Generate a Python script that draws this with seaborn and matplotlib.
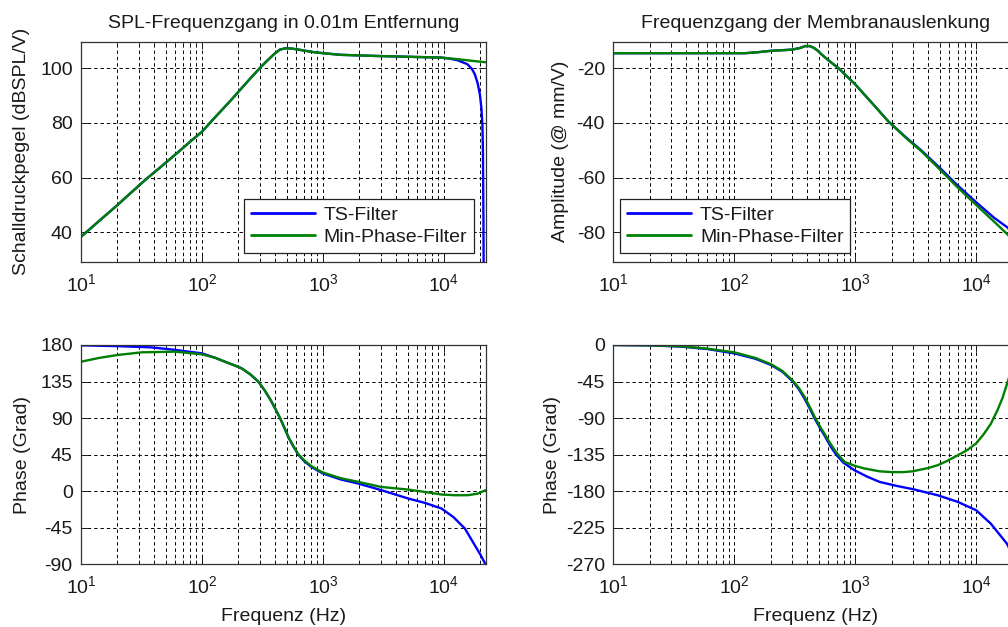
import numpy as np
import pandas as pd
import matplotlib
matplotlib.use("Agg")
import matplotlib.pyplot as plt
import seaborn as sns

# ---------------- data ----------------
# Top-left: SPL frequency response (dB SPL/V)
spl_min_freq = [10, 15, 20, 25, 35, 45, 60, 80, 100, 120, 150, 175, 200, 250, 300, 350, 400,
                440, 490, 550, 650, 800, 1000, 1400, 2700, 5000, 9500, 13000, 18000, 22050]
spl_min_val = [38.4, 45.2, 50.0, 53.9, 59.7, 63.7, 68.4, 73.2, 76.8, 80.7, 85.3, 88.5, 91.4, 96.2,
               100.0, 103.0, 105.4, 106.8, 107.3, 107.2, 106.7, 106.0, 105.5, 104.9, 104.5, 104.2,
               103.9, 103.3, 102.6, 102.2]
spl_ts_freq = [10, 15, 20, 25, 35, 45, 60, 80, 100, 120, 150, 175, 200, 250, 300, 350, 400,
               440, 490, 550, 650, 800, 1000, 1400, 2700, 5000, 9500, 11200, 13000, 15600, 17000,
               18000, 19000, 19800, 20400, 20800, 21000, 21200, 21400]
spl_ts_val = [38.4, 45.2, 50.0, 53.9, 59.7, 63.7, 68.4, 73.2, 76.8, 80.7, 85.3, 88.5, 91.4, 96.2,
              100.0, 103.0, 105.4, 106.8, 107.3, 107.2, 106.7, 106.0, 105.5, 104.9, 104.5, 104.2,
              103.9, 103.5, 102.9, 101.5, 99.8, 97.8, 94.5, 90.5, 85.5, 79.0, 70.0, 45.0, 0.0]

# Top-right: membrane excursion amplitude (dB @ mm/V)
amp_min_freq = [10, 50, 123, 160, 204, 250, 300, 350, 386, 420, 453, 490, 531, 620, 728, 850,
                1000, 1400, 1884, 2600, 3550, 5000, 6700, 10000, 14000, 18400, 22050]
amp_min_val = [-14.5, -14.5, -14.5, -14.1, -13.6, -13.4, -13.2, -12.6, -11.9, -11.9, -12.5,
               -13.6, -15.1, -17.6, -20.0, -22.9, -25.9, -33.1, -39.5, -45.3, -50.5, -57.0,
               -62.7, -70.0, -76.0, -81.0, -84.0]
amp_ts_freq = [10, 50, 123, 160, 204, 250, 300, 350, 386, 420, 453, 490, 531, 620, 728, 850,
               1000, 1400, 1884, 2600, 3550, 5000, 6700, 10000, 14000, 18400, 22050]
amp_ts_val = [-14.5, -14.5, -14.5, -14.1, -13.6, -13.4, -13.2, -12.6, -11.9, -11.9, -12.5,
              -13.6, -15.1, -17.6, -20.0, -22.9, -25.9, -33.1, -39.5, -45.1, -50.2, -56.4,
              -62.0, -69.0, -74.6, -78.4, -86.0]

# Bottom-left: SPL phase (degrees)
ph1_ts_freq = [10, 20, 38, 60, 100, 130, 155, 185, 213, 250, 292, 330, 370, 405, 442, 480, 520,
               570, 625, 700, 800, 900, 1000, 1400, 1960, 3000, 5070, 7000, 9560, 12000, 14900,
               18000, 20000, 22050]
ph1_ts_val = [179.6, 178.6, 177.1, 174.0, 169.7, 164.0, 159.4, 155.0, 151.2, 144.0, 135.0, 124.0,
              112.0, 101.0, 90.0, 78.0, 66.0, 55.0, 45.0, 37.0, 30.0, 25.5, 21.8, 14.5, 9.4, 1.5,
              -9.0, -14.5, -21.4, -32.0, -46.0, -66.6, -78.0, -90.0]
ph1_min_freq = [10, 14, 20, 32, 60, 100, 130, 155, 185, 213, 250, 292, 330, 370, 405, 442, 480,
                520, 570, 625, 700, 800, 900, 1000, 1400, 1960, 3000, 5070, 7000, 9560, 12500,
                15800, 19000, 22050]
ph1_min_val = [159.4, 164.0, 167.7, 171.0, 171.8, 168.5, 164.0, 159.4, 155.0, 151.2, 144.0, 135.0,
               124.0, 112.0, 101.0, 90.0, 78.0, 66.0, 55.5, 45.5, 38.0, 31.0, 26.5, 23.0, 16.0,
               11.5, 5.3, 2.0, -1.0, -4.1, -5.0, -4.9, -3.0, 1.2]

# Bottom-right: excursion phase (degrees)
ph2_ts_freq = [10, 20, 36.6, 60, 100, 150, 202, 250, 305, 340, 380, 420, 460, 510, 560, 620, 695,
               800, 980, 1250, 1585, 2200, 3000, 4800, 7000, 10000, 13200, 17900, 22050]
ph2_ts_val = [0.0, -0.5, -2.0, -5.0, -10.3, -17.0, -24.7, -33.0, -45.0, -54.0, -65.8, -78.0,
              -90.0, -102.0, -112.0, -124.0, -135.0, -145.0, -154.0, -162.0, -168.5, -173.5,
              -177.5, -185.0, -193.0, -203.5, -220.0, -244.5, -270.0]
ph2_min_freq = [10, 20, 36, 60, 100, 150, 202, 250, 305, 340, 380, 420, 460, 510, 560, 620, 695,
                812, 1000, 1190, 1585, 2000, 2500, 2980, 4000, 4800, 5600, 7000, 8500, 10000,
                11500, 13200, 15000, 16500, 18400, 20000, 22050]
ph2_min_val = [0.0, -0.4, -1.5, -4.5, -9.0, -16.0, -23.8, -32.0, -44.0, -52.5, -63.5, -76.0,
               -88.0, -100.0, -110.0, -121.0, -132.0, -143.8, -149.0, -152.0, -155.5, -156.5,
               -156.5, -155.5, -151.5, -148.0, -143.5, -136.0, -129.0, -121.0, -110.0, -97.0,
               -80.0, -65.0, -43.0, -25.0, 0.0]

series_names = ["TS-Filter", "Min-Phase-Filter"]
x_tick_values = [10, 100, 1000, 10000]
x_tick_labels = [r"$\mathregular{10^{1}}$", r"$\mathregular{10^{2}}$",
                 r"$\mathregular{10^{3}}$", r"$\mathregular{10^{4}}$"]
spl_yticks = [40, 60, 80, 100]
amp_yticks = [-80, -60, -40, -20]
ph1_yticks = [-90, -45, 0, 45, 90, 135, 180]
ph2_yticks = [-270, -225, -180, -135, -90, -45, 0]

titles = ["SPL-Frequenzgang in 0.01m Entfernung", "Frequenzgang der Membranauslenkung"]
ylabels = ["Schalldruckpegel (dBSPL/V)", "Amplitude (@ mm/V)", "Phase (Grad)", "Phase (Grad)"]
xlabel = "Frequenz (Hz)"

# ---------------- style ----------------
sns.set_theme(style="white")
plt.rcParams["font.family"] = ["Liberation Sans", "DejaVu Sans"]
plt.rcParams["mathtext.fontset"] = "custom"
plt.rcParams["mathtext.rm"] = "Liberation Sans"
plt.rcParams["text.color"] = "#1a1a1a"
plt.rcParams["axes.labelcolor"] = "#1a1a1a"
plt.rcParams["xtick.color"] = "#1a1a1a"
plt.rcParams["ytick.color"] = "#1a1a1a"

FS = 14
colors = {"TS-Filter": "#0000ff", "Min-Phase-Filter": "#008000"}

fig = plt.figure(figsize=(10.08, 6.27), dpi=100)
W, H = 1008.0, 627.0
axw = 404.5 / W
pos = {
    "tl": [81 / W, 1 - 261.7 / H, axw, 220 / H],
    "tr": [613.3 / W, 1 - 261.7 / H, axw, 220 / H],
    "bl": [81 / W, 1 - 564.3 / H, axw, 219.3 / H],
    "br": [613.3 / W, 1 - 564.3 / H, axw, 219.3 / H],
}
axes = {k: fig.add_axes(v) for k, v in pos.items()}


def df_of(freq, val, name):
    return pd.DataFrame({"f": freq, "v": val, "s": name})


panels = {
    "tl": [(spl_ts_freq, spl_ts_val), (spl_min_freq, spl_min_val)],
    "tr": [(amp_ts_freq, amp_ts_val), (amp_min_freq, amp_min_val)],
    "bl": [(ph1_ts_freq, ph1_ts_val), (ph1_min_freq, ph1_min_val)],
    "br": [(ph2_ts_freq, ph2_ts_val), (ph2_min_freq, ph2_min_val)],
}
ylims = {"tl": (29.3, 109.7), "tr": (-90.7, -10.3), "bl": (-90, 180), "br": (-270, 0)}
yticks = {"tl": spl_yticks, "tr": amp_yticks, "bl": ph1_yticks, "br": ph2_yticks}
ylab = {"tl": ylabels[0], "tr": ylabels[1], "bl": ylabels[2], "br": ylabels[3]}
ylab_x = {"tl": -0.125, "tr": -0.110, "bl": -0.124, "br": -0.130}

for key, ax in axes.items():
    for (fr, vv), name in zip(panels[key], series_names):
        sns.lineplot(data=df_of(fr, vv, name), x="f", y="v", ax=ax, color=colors[name],
                     linewidth=1.7, label=name, legend=False, sort=False, estimator=None)
    ax.set_xscale("log")
    ax.set_xlim(10, 22050)
    ax.set_ylim(*ylims[key])
    ax.set_xticks(x_tick_values)
    ax.set_xticklabels(x_tick_labels, fontsize=FS)
    ax.set_yticks(yticks[key])
    ax.set_yticklabels([str(t) for t in yticks[key]], fontsize=FS)
    ax.xaxis.set_minor_locator(matplotlib.ticker.LogLocator(base=10, subs=np.arange(2, 10), numticks=20))
    ax.xaxis.set_minor_formatter(matplotlib.ticker.NullFormatter())
    ax.grid(True, which="major", axis="both", color="black", linestyle=(0, (3.5, 3)), linewidth=0.7)
    ax.grid(True, which="minor", axis="x", color="black", linestyle=(0, (3.5, 3)), linewidth=0.7)
    ax.tick_params(axis="both", which="both", direction="in", top=True, right=True,
                   bottom=True, left=True, colors="#1a1a1a")
    ax.tick_params(axis="both", which="major", length=5, width=0.7)
    ax.tick_params(axis="x", which="minor", length=3, width=0.6)
    ax.tick_params(axis="x", which="major", pad=8)
    ax.tick_params(axis="y", which="major", pad=6)
    for sp in ax.spines.values():
        sp.set_visible(True)
        sp.set_color("#333333")
        sp.set_linewidth(0.9)
    ax.set_ylabel(ylab[key], fontsize=FS)
    ax.yaxis.set_label_coords(ylab_x[key], 0.5)
    ax.set_xlabel("")
    ax.set_axisbelow(True)

axes["tl"].set_title(titles[0], fontsize=FS, pad=10)
axes["tr"].set_title(titles[1], fontsize=FS, pad=10)
for key in ["bl", "br"]:
    axes[key].set_xlabel(xlabel, fontsize=FS)
    axes[key].xaxis.set_label_coords(0.5, -0.2)

for key, loc, anchor in [("tl", "lower right", (0.972, 0.04)), ("tr", "lower left", (0.017, 0.04))]:
    leg = axes[key].legend(loc=loc, bbox_to_anchor=anchor, fontsize=FS, frameon=True,
                           fancybox=False, edgecolor="#222222", framealpha=1.0,
                           handlelength=3.3, handletextpad=0.45, borderpad=0.35,
                           labelspacing=0.25, borderaxespad=0.0)
    leg.get_frame().set_linewidth(0.9)
    for line in leg.get_lines():
        line.set_linewidth(2.0)

fig.savefig("out.png", dpi=100)
